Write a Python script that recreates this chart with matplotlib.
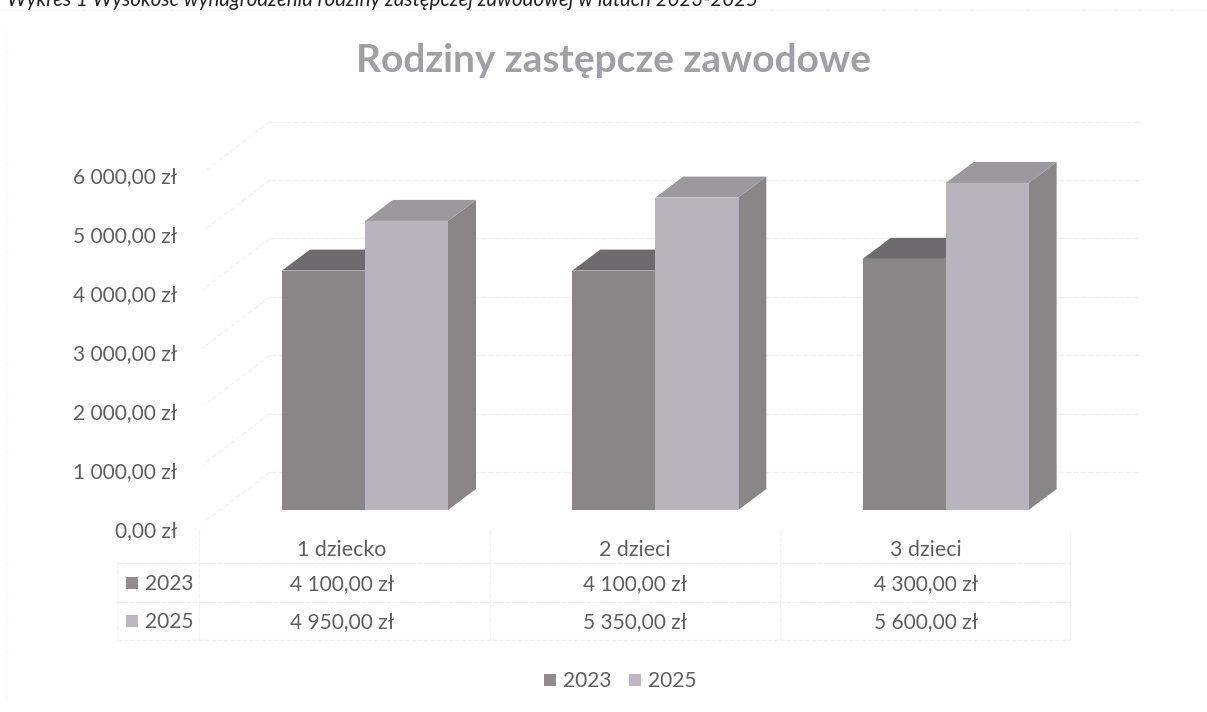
import matplotlib
matplotlib.use('Agg')
import matplotlib.pyplot as plt
from matplotlib.lines import Line2D
from matplotlib.patches import Polygon, Rectangle

categories = ['1 dziecko', '2 dzieci', '3 dzieci']
series_names = ['2023', '2025']
values_2023 = [4100, 4100, 4300]
values_2025 = [4950, 5350, 5600]
labels_2023 = ['4 100,00 zł', '4 100,00 zł', '4 300,00 zł']
labels_2025 = ['4 950,00 zł', '5 350,00 zł', '5 600,00 zł']
y_ticks = [0, 1000, 2000, 3000, 4000, 5000, 6000]
y_labels = ['0,00 zł', '1 000,00 zł', '2 000,00 zł', '3 000,00 zł',
            '4 000,00 zł', '5 000,00 zł', '6 000,00 zł']

W, H = 1207, 712
PX_Y = 0.0584              # pixels per zl
PX_X = 290.33              # pixels per category

plt.rcParams['font.family'] = ['Lato', 'DejaVu Sans']
fig = plt.figure(figsize=(W / 100, H / 100), dpi=100)
ax = fig.add_axes([199 / W, (H - 510) / H, 3 * PX_X / W, 6000 * PX_Y / H])
ax.set_xlim(0, 3)
ax.set_ylim(0, 6000)
ax.axis('off')


def px(x, y):
    return x / W, 1 - y / H


def page_line(x0, y0, x1, y1, color='#f1f0f3', lw=0.9, ls=(0, (4, 1))):
    a = px(x0, y0)
    b = px(x1, y1)
    fig.add_artist(Line2D([a[0], b[0]], [a[1], b[1]], color=color, lw=lw, ls=ls))


def page_text(x, y, s, **kw):
    a = px(x, y)
    fig.text(a[0], a[1], s, va='center', **kw)


# back wall and left wall
wall_dx = 71 / PX_X
wall_dy = 38 / PX_Y
side_dx = -67 / PX_X
side_dy = -51 / PX_Y
wall_end = 3 + 70 / PX_X
for v in y_ticks:
    ax.plot([wall_dx, wall_end], [v + wall_dy, v + wall_dy], color='#f0eff2', lw=0.9,
            ls=(0, (5, 1)), clip_on=False, zorder=1)
    ax.plot([wall_dx, wall_dx + side_dx], [v + wall_dy, v + wall_dy + side_dy],
            color='#f3f2f5', lw=0.9, ls=(0, (4, 2)), clip_on=False, zorder=1)

# bars
bar_w = 83 / PX_X
depth_x = 28 / PX_X
depth_y = 21 / PX_Y
front_colors = ['#8b8789', '#b9b4bb']
top_colors = ['#6e6a6d', '#9d989d']
side_colors = ['#7a7679', '#8a8688']
z = 3
for i in range(len(categories)):
    x0 = i + (282 - 199) / PX_X
    for j, vals in enumerate([values_2023, values_2025]):
        v = vals[i]
        left = x0 + j * bar_w
        right = left + bar_w
        ax.add_patch(Polygon([(right, 0), (right + depth_x, depth_y),
                              (right + depth_x, v + depth_y), (right, v)],
                             fc=side_colors[j], ec='none', clip_on=False, zorder=z))
        ax.add_patch(Polygon([(left, v), (left + depth_x, v + depth_y),
                              (right + depth_x, v + depth_y), (right, v)],
                             fc=top_colors[j], ec='none', clip_on=False, zorder=z))
        ax.bar(left, v, width=bar_w, align='edge', color=front_colors[j], clip_on=False,
               zorder=z + 0.5)
        z += 1

text_c = '#5f5d61'

# y tick labels
for v, s in zip(y_ticks, y_labels):
    page_text(177, 531 - v * 0.059, s, ha='right', fontsize=15, color=text_c)

# data table
for x in [199, 490, 780, 1070]:
    page_line(x, 530, x, 640, color='#f3f2f5')
for y in [563, 602, 640]:
    page_line(117, y, 1070, y, color='#edecef')
page_line(117, 563, 117, 640, color='#f5f4f7')

col_x = [342, 635, 926]
for i, cat in enumerate(categories):
    page_text(col_x[i], 550, cat, ha='center', fontsize=15.4, color=text_c)
    page_text(col_x[i], 584, labels_2023[i], ha='center', fontsize=15, color=text_c)
    page_text(col_x[i], 622, labels_2025[i], ha='center', fontsize=15, color=text_c)

key_colors = ['#8f8b8e', '#bcb7c0']
for row_y, name, c in zip([583, 621], series_names, key_colors):
    a = px(126, row_y + 6)
    fig.add_artist(Rectangle(a, 12 / W, 12 / H, fc=c, ec='none', transform=fig.transFigure))
    page_text(145, row_y + 1, name, ha='left', fontsize=15, color=text_c)

# legend
for x, name, c in zip([544, 629], series_names, key_colors):
    a = px(x, 686)
    fig.add_artist(Rectangle(a, 12 / W, 12 / H, fc=c, ec='none', transform=fig.transFigure))
    page_text(x + 19, 681, name, ha='left', fontsize=15, color=text_c)

# title and caption
page_text(614, 60, 'Rodziny zastępcze zawodowe', ha='center', fontsize=28, fontweight='bold',
          color='#a19ea6')
page_text(7, 0, 'Wykres 1 Wysokość wynagrodzenia rodziny zastępczej zawodowej w latach 2023-2025',
          ha='left', fontsize=14.8, fontstyle='italic', color='#222222')

# scan frame
page_line(0, 10, 1207, 10, color='#f6f5f8')
page_line(7, 30, 7, 700, color='#f8f7fa')

fig.savefig('out.png', dpi=100)
